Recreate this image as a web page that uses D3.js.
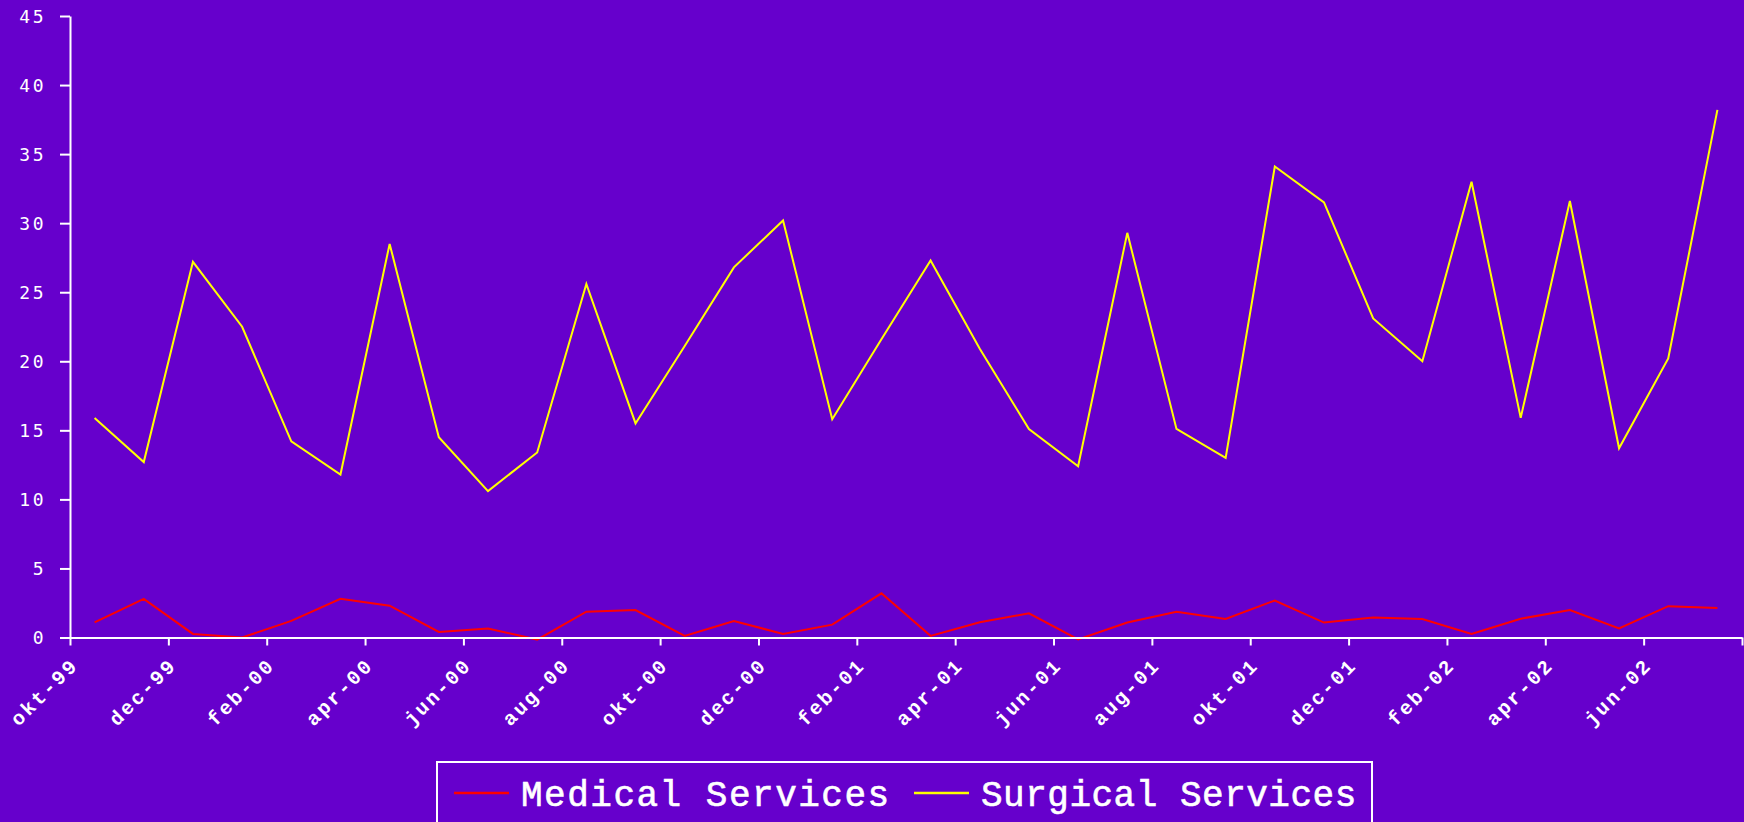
<!DOCTYPE html>
<html>
<head>
<meta charset="utf-8">
<script src="https://cdn.jsdelivr.net/npm/d3@7"></script>
<style>
  html, body { margin: 0; padding: 0; background: #6600cc; }
  svg { display: block; }
</style>
</head>
<body>
<svg id="chart"></svg>
<script>
// maanden okt-99 .. jul-02
const months = ["okt-99","nov-99","dec-99","jan-00","feb-00","mrt-00","apr-00","mei-00","jun-00","jul-00","aug-00","sep-00",
  "okt-00","nov-00","dec-00","jan-01","feb-01","mrt-01","apr-01","mei-01","jun-01","jul-01","aug-01","sep-01",
  "okt-01","nov-01","dec-01","jan-02","feb-02","mrt-02","apr-02","mei-02","jun-02","jul-02"];

const medical = [1.1, 2.8, 0.26, 0.0, 1.2, 2.8, 2.3, 0.4, 0.65, -0.15, 1.87, 1.99,
  0.12, 1.2, 0.26, 0.93, 3.2, 0.12, 1.1, 1.75, -0.14, 1.08, 1.87, 1.34,
  2.68, 1.08, 1.44, 1.34, 0.26, 1.36, 1.99, 0.65, 2.27, 2.13];

const surgical = [15.9, 12.7, 27.2, 22.5, 14.2, 11.8, 28.5, 14.5, 10.6, 13.4, 25.6, 15.5,
  21.1, 26.8, 30.2, 15.8, 21.6, 27.3, 20.9, 15.1, 12.4, 29.3, 15.1, 13.0,
  34.1, 31.5, 23.1, 20.0, 33.0, 15.9, 31.6, 13.7, 20.2, 38.2];

const yTicks = [0, 5, 10, 15, 20, 25, 30, 35, 40, 45];

const series = [
  { name: "Medical Services", values: medical, color: "#ff0000" },
  { name: "Surgical Services", values: surgical, color: "#ffff00" }
];

const width = 1744, height = 822;
const svg = d3.select("#chart").attr("width", width).attr("height", height);

svg.append("rect").attr("width", width).attr("height", height).attr("fill", "#6600cc");

// index-schaal: elke maand een vak, punt in het midden
const x = d3.scaleLinear().domain([0, months.length]).range([70, 1742]);
const y = d3.scaleLinear().domain([0, 45]).range([637.5, 16]);

// lijnen
const line = d3.line()
  .x((d, i) => x(i + 0.5))
  .y(d => y(d));

svg.append("g")
  .selectAll("path")
  .data(series)
  .enter().append("path")
  .attr("fill", "none")
  .attr("stroke", d => d.color)
  .attr("stroke-width", 2)
  .attr("stroke-linejoin", "miter")
  .attr("d", d => line(d.values));

// y-as
const yAxis = svg.append("g")
  .attr("transform", `translate(${x(0)},0)`)
  .call(d3.axisLeft(y).tickValues(yTicks).tickSize(10).tickSizeOuter(0).tickPadding(14));
yAxis.selectAll("path, line").attr("stroke", "#fff").attr("stroke-width", 2);
yAxis.selectAll("text")
  .attr("fill", "#fff")
  .attr("font-family", "DejaVu Sans Mono")
  .attr("font-size", 18)
  .attr("letter-spacing", 2.5)
  .attr("dy", "0.34em");

// x-as, streepjes om de twee maanden
const xTickVals = d3.range(0, months.length + 1, 2);
const xAxis = svg.append("g")
  .attr("transform", `translate(0,${y(0)})`)
  .call(d3.axisBottom(x).tickValues(xTickVals).tickSize(8).tickSizeOuter(0)
    .tickFormat(i => months[i] || ""));
xAxis.selectAll("path, line").attr("stroke", "#fff").attr("stroke-width", 2);
xAxis.selectAll("text")
  .attr("fill", "#fff")
  .attr("font-family", "Liberation Mono")
  .attr("font-weight", "bold")
  .attr("font-size", 20)
  .attr("letter-spacing", 2.3)
  .attr("text-anchor", "end")
  .attr("dy", null)
  .attr("transform", "translate(1,21) rotate(-45)");

// legenda
const legend = svg.append("g");
legend.append("rect")
  .attr("x", 437).attr("y", 762)
  .attr("width", 935).attr("height", 80)
  .attr("fill", "none")
  .attr("stroke", "#fff")
  .attr("stroke-width", 2);

const legendX = [454, 914];
const item = legend.selectAll("g.item")
  .data(series)
  .enter().append("g")
  .attr("class", "item")
  .attr("transform", (d, i) => `translate(${legendX[i]},793)`);

item.append("line")
  .attr("x1", 0).attr("x2", 55)
  .attr("stroke", d => d.color)
  .attr("stroke-width", 2.5);

item.append("text")
  .attr("x", 67)
  .attr("dy", "0.36em")
  .attr("fill", "#fff")
  .attr("stroke", "#fff")
  .attr("stroke-width", 0.6)
  .attr("font-family", "Liberation Mono")
  .attr("font-size", 36)
  .attr("letter-spacing", (d, i) => i === 0 ? 1.5 : 0.5)
  .text(d => d.name);
</script>
</body>
</html>
